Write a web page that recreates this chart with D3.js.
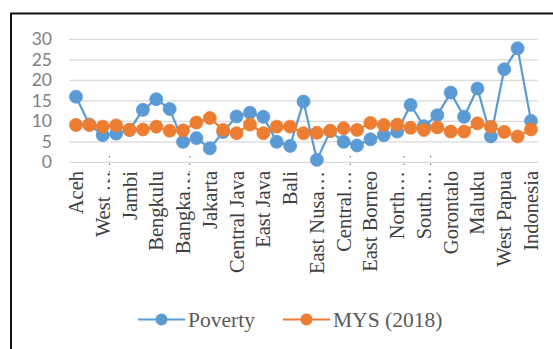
<!DOCTYPE html>
<html>
<head>
<meta charset="utf-8">
<script src="https://cdn.jsdelivr.net/npm/d3@7/dist/d3.min.js"></script>
<style>
  html, body { margin: 0; padding: 0; background: #ffffff; }
  svg { display: block; }
</style>
</head>
<body>
<svg id="chart" width="553" height="349"></svg>
<script>
// Provinces of Indonesia (plus the national figure), in BPS order
const provinces = [
  "Aceh", "North Sumatra", "West Sumatra", "Riau", "Jambi", "South Sumatra",
  "Bengkulu", "Lampung", "Bangka Belitung", "Riau Islands", "Jakarta",
  "West Java", "Central Java", "Yogyakarta", "East Java", "Banten", "Bali",
  "West Nusa Tenggara", "East Nusa Tenggara", "West Borneo", "Central Borneo",
  "South Borneo", "East Borneo", "North Borneo", "North Sulawesi",
  "Central Sulawesi", "South Sulawesi", "Southeast Sulawesi", "Gorontalo",
  "West Sulawesi", "Maluku", "North Maluku", "West Papua", "Papua", "Indonesia"
];

// Poverty rate (%)
const poverty = [
  16.0, 9.2, 6.6, 7.0, 7.9, 12.8, 15.4, 13.0, 5.0, 5.9, 3.4,
  7.4, 11.2, 12.1, 11.1, 5.0, 4.0, 14.8, 0.6, 7.6, 5.0,
  4.1, 5.6, 6.6, 7.5, 14.0, 8.8, 11.5, 17.0, 11.1, 18.0,
  6.3, 22.7, 27.8, 10.1
];

// Mean years of schooling, 2018
const mys = [
  9.1, 9.1, 8.7, 9.0, 7.9, 8.0, 8.7, 7.7, 7.8, 9.7, 10.8,
  7.9, 7.1, 9.2, 7.1, 8.7, 8.7, 7.1, 7.2, 7.7, 8.3,
  7.9, 9.6, 9.1, 9.2, 8.4, 7.9, 8.5, 7.5, 7.5, 9.5,
  8.7, 7.4, 6.3, 8.0
];

// Category labels written under every second province (shortened as on the axis)
const tickLabels = [
  "Aceh", "West …", "Jambi", "Bengkulu", "Bangka…", "Jakarta",
  "Central Java", "East Java", "Bali", "East Nusa…", "Central…",
  "East Borneo", "North…", "South…", "Gorontalo", "Maluku",
  "West Papua", "Indonesia"
];

const yTicks = [0, 5, 10, 15, 20, 25, 30];

const seriesNames = ["Poverty", "MYS (2018)"];
const seriesColors = ["#5b9bd5", "#ed7d31"];

// Faint dotted marks left on a few category boundaries
const dottedBoundaries = [2, 8, 20, 24, 26];

const svg = d3.select("#chart");

// outer frame
svg.append("rect")
  .attr("x", 11).attr("y", 13.5)
  .attr("width", 600).attr("height", 400)
  .attr("fill", "#fff")
  .attr("stroke", "#111").attr("stroke-width", 2);

const x = d3.scaleBand()
  .domain(provinces)
  .range([69.3, 537.7])
  .padding(0);

const y = d3.scaleLinear()
  .domain([0, 30])
  .range([162.3, 39.3]);

const cx = d => x(d) + x.bandwidth() / 2;

// horizontal gridlines
svg.append("g")
  .selectAll("line")
  .data(yTicks)
  .join("line")
  .attr("x1", x.range()[0]).attr("x2", x.range()[1])
  .attr("y1", d => y(d)).attr("y2", d => y(d))
  .attr("stroke", "#d9d9d9").attr("stroke-width", 1.2);

// y axis labels
const yAxis = d3.axisLeft(y).tickValues(yTicks).tickSize(0).tickPadding(0);
const yg = svg.append("g")
  .attr("transform", "translate(52,0)")
  .call(yAxis);
yg.select(".domain").remove();
yg.selectAll("text")
  .attr("font-family", "Lato, 'Open Sans', sans-serif")
  .attr("font-size", 17.5)
  .attr("fill", "#7f7f7f");

// dotted boundary marks
svg.append("g")
  .selectAll("line")
  .data(dottedBoundaries)
  .join("line")
  .attr("x1", i => x(provinces[i + 1])).attr("x2", i => x(provinces[i + 1]))
  .attr("y1", 156).attr("y2", (i, k) => k < 2 ? 180 : 168)
  .attr("stroke", "#777").attr("stroke-width", 1.1)
  .attr("stroke-dasharray", "1.5,6");

// x axis category labels (rotated)
svg.append("g")
  .selectAll("text")
  .data(tickLabels)
  .join("text")
  .attr("transform", (d, i) => `translate(${cx(provinces[i * 2])},171) rotate(-90)`)
  .attr("dy", "0.34em")
  .attr("text-anchor", "end")
  .attr("font-family", "'Liberation Serif', 'Times New Roman', serif")
  .attr("font-size", 20.5)
  .attr("fill", "#404040")
  .text(d => d);

// series lines and markers
[poverty, mys].forEach((vals, s) => {
  const data = provinces.map((p, i) => ({ p, v: vals[i] }));
  const g = svg.append("g");
  g.append("path")
    .datum(data)
    .attr("fill", "none")
    .attr("stroke", seriesColors[s])
    .attr("stroke-width", 2.2)
    .attr("d", d3.line().x(d => cx(d.p)).y(d => y(d.v)));
  g.selectAll("circle")
    .data(data)
    .join("circle")
    .attr("cx", d => cx(d.p))
    .attr("cy", d => y(d.v))
    .attr("r", 6.5)
    .attr("fill", seriesColors[s])
    .attr("stroke", seriesColors[s])
    .attr("stroke-width", 0.8);
});

// legend
const legend = svg.append("g");
const legendX = [138, 283];
seriesNames.forEach((name, s) => {
  const lg = legend.append("g").attr("transform", `translate(${legendX[s]},319.5)`);
  lg.append("line")
    .attr("x1", 0).attr("x2", 47).attr("y1", 0).attr("y2", 0)
    .attr("stroke", seriesColors[s]).attr("stroke-width", 2.2);
  lg.append("circle")
    .attr("cx", 23.5).attr("cy", 0).attr("r", 6)
    .attr("fill", seriesColors[s]);
  lg.append("text")
    .attr("x", 50).attr("y", 0).attr("dy", "0.34em")
    .attr("font-family", "'Liberation Serif', 'Times New Roman', serif")
    .attr("font-size", 21.5)
    .attr("fill", "#595959")
    .text(name);
});
</script>
</body>
</html>
